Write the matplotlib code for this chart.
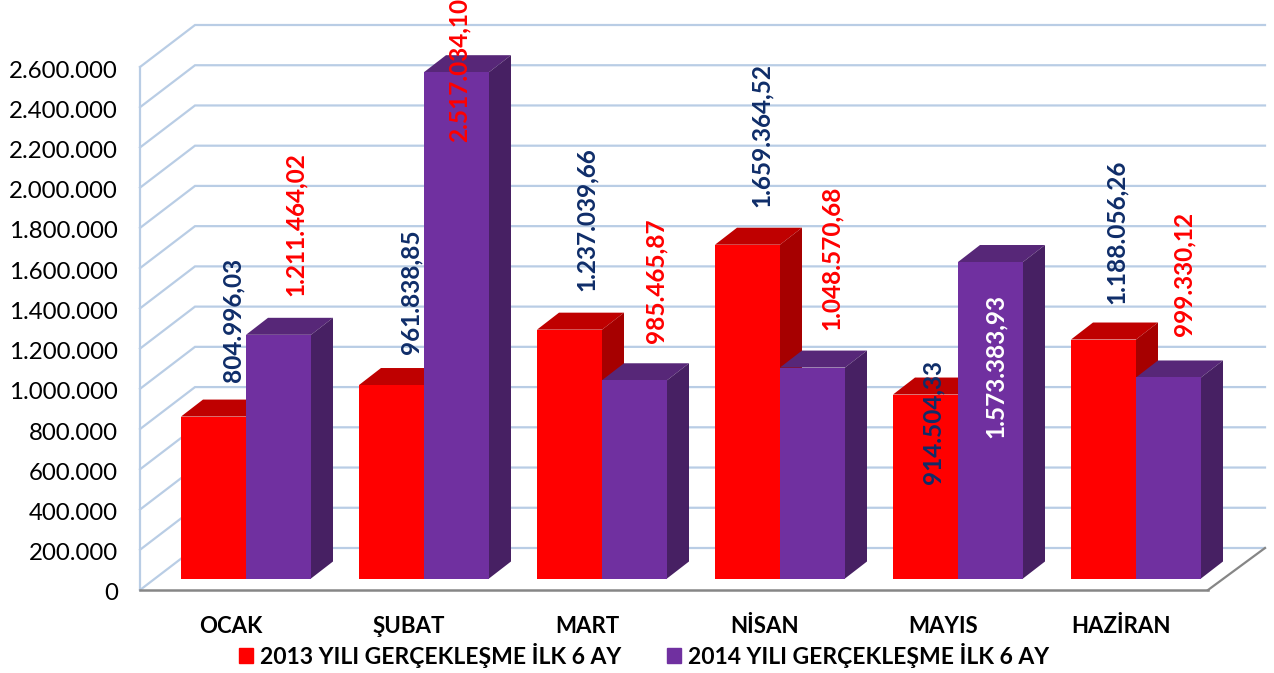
import matplotlib
matplotlib.use('Agg')
import matplotlib.pyplot as plt
from matplotlib.patches import Patch
from matplotlib.transforms import ScaledTranslation

plt.rcParams['font.family'] = ['Lato', 'DejaVu Sans']

months = ['OCAK', 'ŞUBAT', 'MART', 'NİSAN', 'MAYIS', 'HAZİRAN']
values2013 = [804996.03, 961838.85, 1237039.66, 1659364.52, 914504.33, 1188056.26]
values2014 = [1211464.02, 2517034.10, 985465.87, 1048570.68, 1573383.93, 999330.12]
labels2013 = ['804.996,03', '961.838,85', '1.237.039,66', '1.659.364,52', '914.504,33', '1.188.056,26']
labels2014 = ['1.211.464,02', '2.517.034,10', '985.465,87', '1.048.570,68', '1.573.383,93', '999.330,12']
yticks = list(range(0, 2800000, 200000))
ytickLabels = ['0', '200.000', '400.000', '600.000', '800.000', '1.000.000', '1.200.000', '1.400.000',
               '1.600.000', '1.800.000', '2.000.000', '2.200.000', '2.400.000', '2.600.000']

# label shift from the top middle of each bar, in pixels
shiftX2013 = [19.5, 19.5, 16.5, 13.5, 7.5, 12.5]
shiftY2013 = [35, 31, 39, 38, -89, 36]
shiftX2014 = [16.5, 2.5, 21.5, 18.5, 4.5, 15.5]
shiftY2014 = [39, -70, 37, 38, -176, 41]
colors2013 = ['#0F2D69'] * 6
colors2014 = ['#FF0000', '#FF0000', '#FF0000', '#FF0000', '#FFFFFF', '#FF0000']

fig = plt.figure(figsize=(12.74, 6.73), dpi=100)
ax = fig.add_axes([140 / 1274, (673 - 590) / 673, (1208 - 140) / 1274, 523 / 673])

# one category = 178 px, 2.6M = 523 px
xUnit = 178
yUnit = 2600000 / 523
ax.set_xlim((140 - 231) / xUnit, (1208 - 231) / xUnit)
ax.set_ylim(0, 2600000)

wallX = 55 / xUnit
wallY = 42 * yUnit
rightEnd = ax.get_xlim()[1]
leftEnd = ax.get_xlim()[0]
gridColor = '#B9CDE5'

for v in yticks:
    ax.plot([leftEnd, leftEnd + wallX, rightEnd + 57 / xUnit], [v, v + wallY, v + wallY],
            color=gridColor, lw=1.6, clip_on=False, zorder=1, solid_joinstyle='miter')
ax.plot([rightEnd, rightEnd + 57 / xUnit], [0, wallY], color='#868686', lw=1.6, clip_on=False, zorder=2)

barW = 65 / xUnit
base = 11.5 * yUnit
depthX = 22 / xUnit
depthY = 17 * yUnit
shift = 15 / xUnit


def draw_bar(x, value, front, top, side):
    left = x - barW / 2
    right = x + barW / 2
    h = base + value
    ax.fill([left, left + depthX, right + depthX, right], [h, h + depthY, h + depthY, h],
            color=top, lw=0, clip_on=False, zorder=3)
    ax.fill([right, right + depthX, right + depthX, right], [base, base + depthY, h + depthY, h],
            color=side, lw=0, clip_on=False, zorder=3)
    ax.bar(x, value, barW, bottom=base, color=front, lw=0, clip_on=False, zorder=4)


for i in range(len(months)):
    draw_bar(i + shift - barW / 2, values2013[i], '#FF0000', '#BF0000', '#A60000')
    draw_bar(i + shift + barW / 2, values2014[i], '#7030A0', '#572778', '#472063')

for i in range(len(months)):
    ax.annotate(labels2013[i], (i + shift - barW / 2, base + values2013[i]),
                xytext=(shiftX2013[i], shiftY2013[i]), textcoords='offset pixels',
                rotation=90, ha='center', va='bottom', fontsize=17.6, fontweight='bold',
                color=colors2013[i], zorder=6, annotation_clip=False)
    ax.annotate(labels2014[i], (i + shift + barW / 2, base + values2014[i]),
                xytext=(shiftX2014[i], shiftY2014[i]), textcoords='offset pixels',
                rotation=90, ha='center', va='bottom', fontsize=17.6, fontweight='bold',
                color=colors2014[i], zorder=6, annotation_clip=False)

ax.set_yticks(yticks)
ax.set_yticklabels(ytickLabels)
ax.set_xticks(range(len(months)))
ax.set_xticklabels(months, fontweight='bold')
ax.tick_params(axis='y', length=0, pad=16, labelsize=17.3, labelcolor='#000000')
ax.tick_params(axis='x', length=0, pad=19, labelsize=16, labelcolor='#000000')

# y labels sit 2 px lower than the matplotlib default centering
down = ScaledTranslation(0, -2 / 100, fig.dpi_scale_trans)
for label in ax.get_yticklabels():
    label.set_transform(label.get_transform() + down)

for name in ['top', 'right']:
    ax.spines[name].set_visible(False)
ax.spines['left'].set_color(gridColor)
ax.spines['left'].set_linewidth(1.6)
ax.spines['bottom'].set_color('#868686')
ax.spines['bottom'].set_linewidth(1.8)
ax.patch.set_alpha(0)

handles = [Patch(color='#FF0000'), Patch(color='#7030A0')]
ax.legend(handles, ['2013 YILI GERÇEKLEŞME İLK 6 AY', '2014 YILI GERÇEKLEŞME İLK 6 AY'],
          loc='center', bbox_to_anchor=(644 / 1274, (673 - 655) / 673), bbox_transform=fig.transFigure,
          ncol=2, frameon=False, handlelength=0.62, handleheight=0.62, handletextpad=0.3,
          columnspacing=1.96, prop={'size': 16.5, 'weight': 'bold'}, borderpad=0, borderaxespad=0)

fig.savefig('out.png', dpi=100)
